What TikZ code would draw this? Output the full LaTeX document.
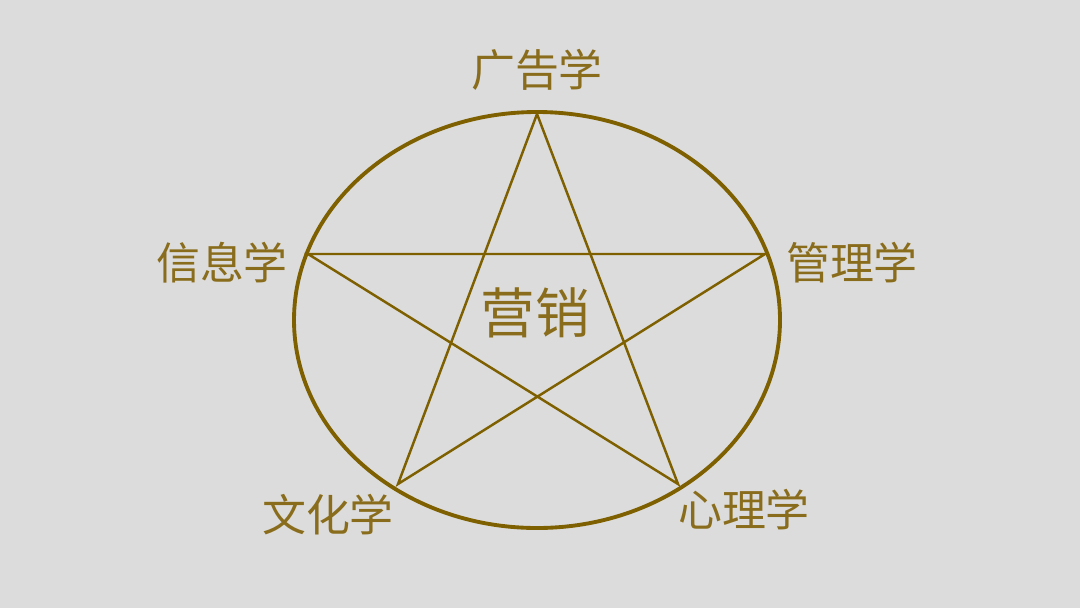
\documentclass[tikz,border=0pt]{standalone}
\usepackage{fontspec}
\setmainfont{Noto Sans CJK SC}
\definecolor{bgray}{HTML}{DCDCDC}
\definecolor{gold}{HTML}{7F6000}
\definecolor{goldtext}{HTML}{8A6D1C}
\tikzset{
    subj/.style={text=goldtext, font=\fontsize{12.5}{14}\selectfont, inner sep=0pt},
    core/.style={text=goldtext, font=\fontsize{15.5}{18}\selectfont, inner sep=0pt},
}
\begin{document}
\begin{tikzpicture}
        \fill[bgray] (0,0) rectangle (10.8,6.08);
        \useasboundingbox (0,0) rectangle (10.8,6.08);
        \draw[gold, line width=1.1pt] (5.37,2.88) ellipse (2.43 and 2.08);
        \coordinate (top) at (5.37,4.94);
        \coordinate (lft) at (3.08,3.54);
        \coordinate (rgt) at (7.65,3.54);
        \coordinate (bl) at (3.98,1.24);
        \coordinate (br) at (6.78,1.24);
        \draw[gold, line width=0.7pt, line join=miter] (top) -- (bl) -- (rgt) -- (lft) -- (br) -- cycle;
        \node[core] (mkt) at (5.35,2.95) {营销};
        \node[subj] (ad) at (5.37,5.38) {广告学};
        \node[subj] (info) at (2.22,3.45) {信息学};
        \node[subj] (mgmt) at (8.52,3.45) {管理学};
        \node[subj] (cult) at (3.28,0.93) {文化学};
        \node[subj] (psy) at (7.44,0.98) {心理学};
    \end{tikzpicture}
\end{document}
